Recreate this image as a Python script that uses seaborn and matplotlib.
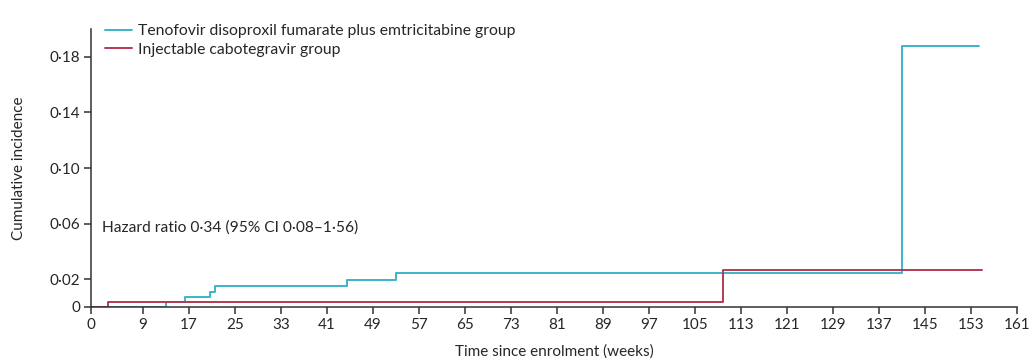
import matplotlib
matplotlib.use("Agg")
import matplotlib.pyplot as plt
import seaborn as sns
import pandas as pd

# Data
tdf_weeks = [0, 13.0, 16.3, 20.7, 21.6, 44.5, 53.0, 141.0, 154.4]
tdf_cuminc = [0, 0.0034, 0.0072, 0.0110, 0.0149, 0.0194, 0.0242, 0.1877, 0.1877]
cab_weeks = [0, 2.9, 109.9, 155.0]
cab_cuminc = [0, 0.0034, 0.0266, 0.0266]
group_labels = ["Tenofovir disoproxil fumarate plus emtricitabine group",
                "Injectable cabotegravir group"]
x_ticks = [0, 9, 17, 25, 33, 41, 49, 57, 65, 73, 81, 89, 97, 105, 113, 121, 129, 137, 145, 153, 161]
y_ticks = [0, 0.02, 0.06, 0.10, 0.14, 0.18]
y_ticklabels = ["0", "0·02", "0·06", "0·10", "0·14", "0·18"]

df = pd.concat([
    pd.DataFrame({"week": tdf_weeks, "inc": tdf_cuminc, "group": group_labels[0]}),
    pd.DataFrame({"week": cab_weeks, "inc": cab_cuminc, "group": group_labels[1]}),
], ignore_index=True)

sns.set_theme(style="ticks")
plt.rcParams["font.family"] = ["Lato", "DejaVu Sans"]

fig = plt.figure(figsize=(10.36, 3.63), dpi=100)
ax = fig.add_axes([91/1036, 56/363, (1017-91)/1036, (307-29)/363])

palette = {group_labels[0]: "#3ab4c9", group_labels[1]: "#b23a55"}
sns.lineplot(data=df, x="week", y="inc", hue="group", palette=palette,
             drawstyle="steps-post", estimator=None, sort=False, lw=1.4, ax=ax)

ax.set_xlim(0, 161)
ax.set_ylim(0, 0.2)
ax.set_xticks(x_ticks)
ax.set_yticks(y_ticks)
ax.set_yticklabels(y_ticklabels)
ax.tick_params(axis="both", labelsize=11, length=5, width=1.1, color="#333333", pad=3)
for s in ["top", "right"]:
    ax.spines[s].set_visible(False)
for s in ["left", "bottom"]:
    ax.spines[s].set_linewidth(1.1)
    ax.spines[s].set_color("#333333")

ax.set_xlabel("Time since enrolment (weeks)", fontsize=11, labelpad=9)
ax.set_ylabel("Cumulative incidence", fontsize=11, labelpad=17)

ax.text(1.9, 0.057, "Hazard ratio 0·34 (95% CI 0·08–1·56)", fontsize=11.2, va="center", ha="left")

leg = ax.legend(loc="upper left", bbox_to_anchor=(0.008, 1.04), frameon=False,
                fontsize=11.3, handlelength=1.75, handletextpad=0.35, labelspacing=0.3,
                borderaxespad=0)
for h in leg.get_lines():
    h.set_linewidth(1.4)

fig.savefig("out.png", dpi=100)
